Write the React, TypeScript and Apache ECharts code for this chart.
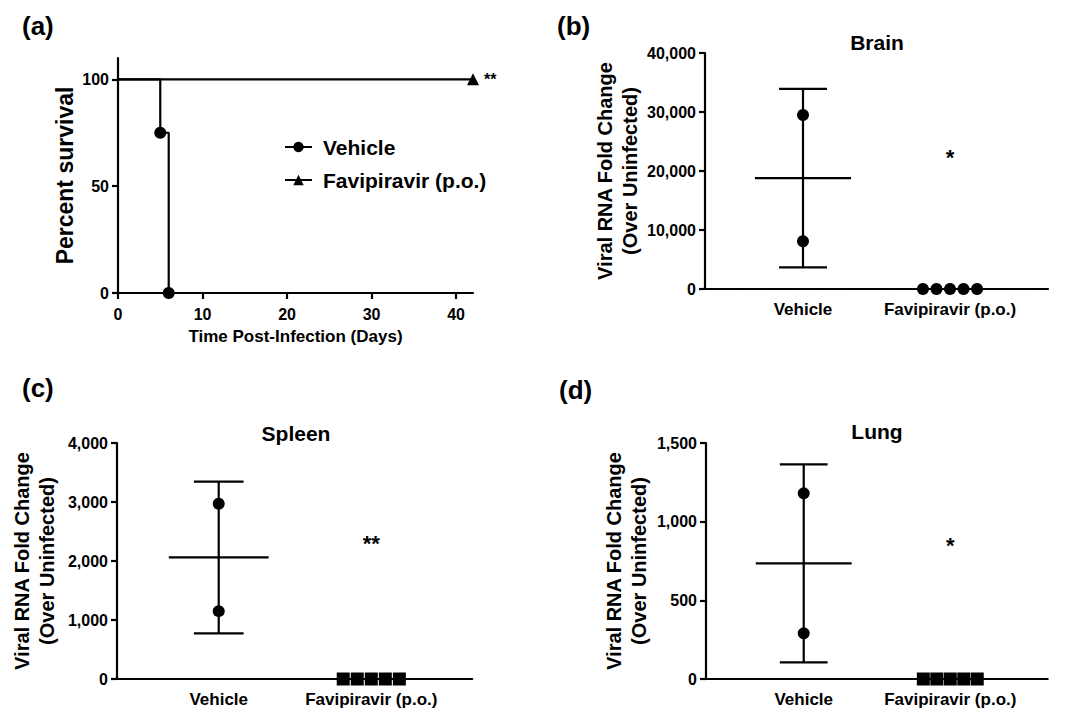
import React, { useEffect, useRef } from "react";
import * as echarts from "echarts";

const FONT = '"Liberation Sans", Arial, Helvetica, sans-serif';

// ---- Panel (a): survival ----
const survivalXTicks = [0, 10, 20, 30, 40];
const survivalYTicks = [0, 50, 100];
const vehicleSurvival = [
  [0, 100],
  [5, 75],
  [6, 0],
];
const faviSurvival = [
  [0, 100],
  [42, 100],
];
const survivalSig = "**";

// ---- Panels (b)-(d): viral RNA fold change ----
const groups = ["Vehicle", "Favipiravir (p.o.)"];
const groupPos = [1, 2];
const faviJitter = [-0.184, -0.092, 0, 0.092, 0.184];

const brainTicks = [0, 10000, 20000, 30000, 40000];
const brainVehicle = [29500, 8100];
const brainFavi = [0, 0, 0, 0, 0];
const brainSig = { text: "*", y: 22300 };

const spleenTicks = [0, 1000, 2000, 3000, 4000];
const spleenVehicle = [2970, 1150];
const spleenFavi = [0, 0, 0, 0, 0];
const spleenSig = { text: "**", y: 2300 };

const lungTicks = [0, 500, 1000, 1500];
const lungVehicle = [1180, 290];
const lungFavi = [0, 0, 0, 0, 0];
const lungSig = { text: "*", y: 850 };

function meanSd(vals: number[]) {
  const m = vals.reduce((a, b) => a + b, 0) / vals.length;
  const v = vals.reduce((a, b) => a + (b - m) * (b - m), 0) / (vals.length - 1);
  return { m, sd: Math.sqrt(v) };
}

const bold = (size: number) => ({
  fontFamily: FONT,
  fontWeight: "bold" as const,
  fontSize: size,
  color: "#000",
});

export default function App() {
  const ref = useRef<HTMLDivElement>(null);

  useEffect(() => {
    if (!ref.current) return;
    const chart = echarts.init(ref.current, undefined, { renderer: "svg" });

    const axisLineSolid = { show: true, lineStyle: { color: "#000", width: 2.2 } };
    const tickOut = { show: true, length: 6, inside: false, lineStyle: { color: "#000", width: 2.2 } };

    const grids = [
      { left: 118, top: 58, width: 355, height: 235 },
      { left: 705, top: 53, width: 343, height: 236 },
      { left: 117, top: 443, width: 356, height: 236 },
      { left: 706, top: 443, width: 342, height: 236 },
    ];

    const fmt = (v: number) => Number(v).toLocaleString("en-US");

    const catXAxis = (gi: number) => ({
      type: "value",
      gridIndex: gi,
      min: 1 / 3,
      max: 8 / 3,
      splitLine: { show: false },
      axisLine: { show: true, onZero: false, lineStyle: { color: "#000", width: 2.2, type: [1.5, 1.2] } },
      axisTick: { show: false },
      axisLabel: {
        customValues: groupPos,
        formatter: (v: number) => groups[groupPos.indexOf(Math.round(v))] ?? "",
        margin: 12,
        ...bold(17),
      },
    });

    const valYAxis = (gi: number, ticks: number[], gap: number) => ({
      type: "value",
      gridIndex: gi,
      min: ticks[0],
      max: ticks[ticks.length - 1],
      interval: ticks[1] - ticks[0],
      splitLine: { show: false },
      axisLine: axisLineSolid,
      axisTick: tickOut,
      axisLabel: { formatter: fmt, margin: 9, ...bold(16) },
      name: "Viral RNA Fold Change\n(Over Uninfected)",
      nameLocation: "middle",
      nameRotate: 90,
      nameGap: gap,
      nameTextStyle: { ...bold(20), lineHeight: 25 },
    });

    const panelSeries = (gi: number, key: string, vehicle: number[], favi: number[], favSymbol: string, sig: { text: string; y: number }) => {
      const { m, sd } = meanSd(vehicle);
      return [
        {
          name: key + " error",
          type: "custom",
          xAxisIndex: gi,
          yAxisIndex: gi,
          z: 3,
          encode: { x: 0, y: [1, 2, 3] },
          data: [[groupPos[0], m, m - sd, m + sd]],
          renderItem: (params: any, api: any) => {
            const x = api.value(0);
            const mean = api.value(1);
            const lo = api.value(2);
            const hi = api.value(3);
            const capHalf = 0.163;
            const meanHalf = 0.327;
            const style = { stroke: "#000", lineWidth: 2.2 };
            const seg = (a: number[], b: number[]) => {
              const p1 = api.coord(a);
              const p2 = api.coord(b);
              return { type: "line", shape: { x1: p1[0], y1: p1[1], x2: p2[0], y2: p2[1] }, style };
            };
            return {
              type: "group",
              children: [
                seg([x, lo], [x, hi]),
                seg([x - capHalf, lo], [x + capHalf, lo]),
                seg([x - capHalf, hi], [x + capHalf, hi]),
                seg([x - meanHalf, mean], [x + meanHalf, mean]),
              ],
            };
          },
        },
        {
          name: key + " Vehicle",
          type: "scatter",
          xAxisIndex: gi,
          yAxisIndex: gi,
          symbol: "circle",
          symbolSize: 12,
          z: 4,
          itemStyle: { color: "#000", opacity: 1 },
          data: vehicle.map((v) => [groupPos[0], v]),
        },
        {
          name: key + " Favipiravir",
          type: "scatter",
          xAxisIndex: gi,
          yAxisIndex: gi,
          symbol: favSymbol,
          symbolSize: favSymbol === "rect" ? 13 : 12,
          z: 4,
          itemStyle: { color: "#000", opacity: 1 },
          data: favi.map((v, i) => [groupPos[1] + faviJitter[i], v]),
        },
        {
          name: key + " significance",
          type: "scatter",
          xAxisIndex: gi,
          yAxisIndex: gi,
          symbol: "circle",
          symbolSize: 1,
          itemStyle: { color: "#fff", opacity: 0 },
          label: { show: true, position: "inside", formatter: sig.text, opacity: 1, ...bold(22) },
          data: [[groupPos[1], sig.y]],
        },
      ];
    };

    const option: any = {
      animation: false,
      backgroundColor: "#fff",
      textStyle: { fontFamily: FONT },
      grid: grids,
      legend: {
        data: ["Vehicle", "Favipiravir (p.o.)"],
        orient: "vertical",
        left: 279,
        top: 131,
        itemWidth: 27,
        itemHeight: 13,
        itemGap: 11,
        selectedMode: false,
        textStyle: { ...bold(21), lineHeight: 22, padding: [0, 0, 0, 6] },
      },
      xAxis: [
        {
          type: "value",
          gridIndex: 0,
          min: 0,
          max: 42,
          splitLine: { show: false },
          axisLine: { ...axisLineSolid, onZero: false },
          axisTick: { ...tickOut, customValues: survivalXTicks },
          axisLabel: { customValues: survivalXTicks, margin: 13, ...bold(16) },
          name: "Time Post-Infection (Days)",
          nameLocation: "middle",
          nameGap: 35,
          nameTextStyle: bold(17),
        },
        catXAxis(1),
        catXAxis(2),
        catXAxis(3),
      ],
      yAxis: [
        {
          type: "value",
          gridIndex: 0,
          min: 0,
          max: 110,
          splitLine: { show: false },
          axisLine: axisLineSolid,
          axisTick: { ...tickOut, customValues: survivalYTicks },
          axisLabel: { customValues: survivalYTicks, margin: 9, ...bold(16) },
          name: "Percent survival",
          nameLocation: "middle",
          nameRotate: 90,
          nameGap: 42,
          nameTextStyle: bold(23),
        },
        valYAxis(1, brainTicks, 63),
        valYAxis(2, spleenTicks, 58),
        valYAxis(3, lungTicks, 55),
      ],
      graphic: [
        { type: "text", x: 22, y: 13, style: { text: "(a)", font: `bold 26px ${FONT}`, fill: "#000" } },
        { type: "text", x: 557, y: 13, style: { text: "(b)", font: `bold 26px ${FONT}`, fill: "#000" } },
        { type: "text", x: 22, y: 375, style: { text: "(c)", font: `bold 26px ${FONT}`, fill: "#000" } },
        { type: "text", x: 559, y: 377, style: { text: "(d)", font: `bold 26px ${FONT}`, fill: "#000" } },
        { type: "text", x: 877, y: 42, style: { text: "Brain", font: `bold 21px ${FONT}`, fill: "#000", align: "center", verticalAlign: "middle" } },
        { type: "text", x: 296, y: 433, style: { text: "Spleen", font: `bold 21px ${FONT}`, fill: "#000", align: "center", verticalAlign: "middle" } },
        { type: "text", x: 877, y: 431, style: { text: "Lung", font: `bold 21px ${FONT}`, fill: "#000", align: "center", verticalAlign: "middle" } },
      ],
      series: [
        {
          name: "Favipiravir (p.o.)",
          type: "line",
          xAxisIndex: 0,
          yAxisIndex: 0,
          step: "end",
          symbol: "triangle",
          symbolSize: 12,
          showAllSymbol: true,
          lineStyle: { color: "#000", width: 2.2 },
          itemStyle: { color: "#000" },
          data: faviSurvival.map((p, i) =>
            i === faviSurvival.length - 1
              ? { value: p, label: { show: true, position: "right", distance: 5, formatter: survivalSig, ...bold(16) } }
              : { value: p, symbol: "none" }
          ),
        },
        {
          name: "Vehicle",
          type: "line",
          xAxisIndex: 0,
          yAxisIndex: 0,
          step: "end",
          symbol: "circle",
          symbolSize: 12,
          showAllSymbol: true,
          lineStyle: { color: "#000", width: 2.2 },
          itemStyle: { color: "#000" },
          data: vehicleSurvival.map((p, i) => (i === 0 ? { value: p, symbol: "none" } : { value: p })),
        },
        ...panelSeries(1, "Brain", brainVehicle, brainFavi, "circle", brainSig),
        ...panelSeries(2, "Spleen", spleenVehicle, spleenFavi, "rect", spleenSig),
        ...panelSeries(3, "Lung", lungVehicle, lungFavi, "rect", lungSig),
      ],
    };

    chart.setOption(option);
    return () => chart.dispose();
  }, []);

  return (
    <div
      ref={ref}
      style={{ position: "fixed", left: 0, top: 0, width: 1073, height: 708, background: "#fff" }}
    />
  );
}
